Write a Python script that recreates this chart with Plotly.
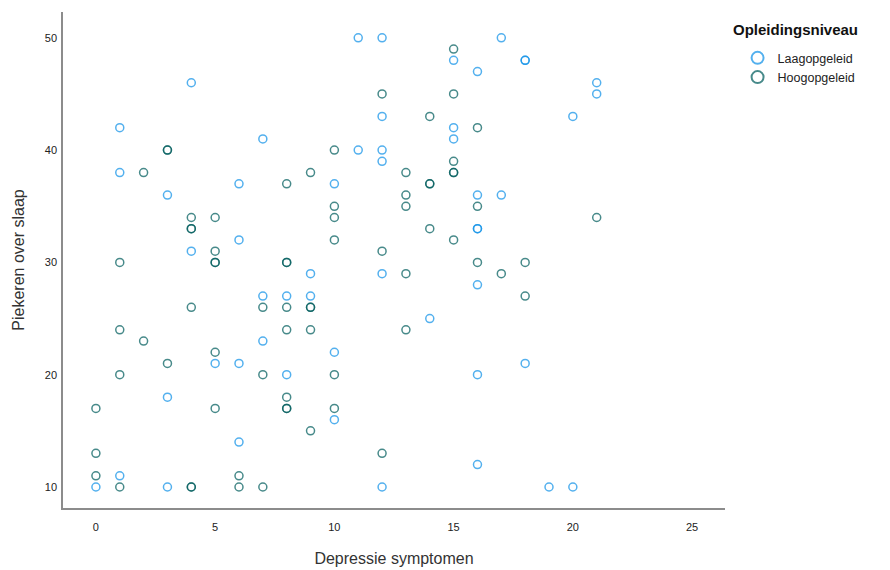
import plotly.graph_objects as go

# Depressie symptomen (x) and Piekeren over slaap (y) per opleidingsniveau
laag_x = [11, 12, 17, 15, 18, 18, 16, 4, 21, 21, 12, 20, 1, 15, 7, 15, 11, 12, 12,
          1, 6, 10, 3, 16, 17, 16, 16, 6, 4, 9, 12, 16, 7, 8, 9, 14, 7, 10, 5, 6, 18,
          8, 16, 3, 10, 6, 16, 1, 0, 3, 12, 19, 20]
laag_y = [50, 50, 50, 48, 48, 48, 47, 46, 46, 45, 43, 43, 42, 42, 41, 41, 40, 40, 39,
          38, 37, 37, 36, 36, 36, 33, 33, 32, 31, 29, 29, 28, 27, 27, 27, 25, 23, 22, 21, 21, 21,
          20, 20, 18, 16, 14, 12, 11, 10, 10, 10, 10, 10]

hoog_x = [15, 12, 15, 14, 16, 3, 3, 10, 15, 2, 9, 13, 15, 15, 8, 14, 14, 13, 10, 13, 16,
          4, 5, 10, 21, 4, 4, 14, 10, 15, 5, 12, 1, 5, 5, 8, 8, 16, 18, 13, 17,
          18, 4, 7, 8, 9, 9, 1, 8, 9, 13, 2, 5, 3, 1, 7, 10, 8, 0, 5, 8, 8, 10,
          9, 0, 12, 0, 6, 1, 4, 4, 6, 7]
hoog_y = [49, 45, 45, 43, 42, 40, 40, 40, 39, 38, 38, 38, 38, 38, 37, 37, 37, 36, 35, 35, 35,
          34, 34, 34, 34, 33, 33, 33, 32, 32, 31, 31, 30, 30, 30, 30, 30, 30, 30, 29, 29,
          27, 26, 26, 26, 26, 26, 24, 24, 24, 24, 23, 22, 21, 20, 20, 20, 18, 17, 17, 17, 17, 17,
          15, 13, 13, 11, 11, 10, 10, 10, 10, 10]

x_ticks = [0, 5, 10, 15, 20, 25]
y_ticks = [10, 20, 30, 40, 50]

BLUE = "#1192e8"
TEAL = "#005d5d"
FONT = "Arial, Liberation Sans, sans-serif"

fig = go.Figure()
for name, xs, ys, col in [("Laagopgeleid", laag_x, laag_y, BLUE),
                          ("Hoogopgeleid", hoog_x, hoog_y, TEAL)]:
    fig.add_trace(go.Scatter(
        x=xs, y=ys, mode="markers", name=name,
        marker=dict(symbol="circle-open", size=8, color=col, opacity=0.72,
                    line=dict(width=1.5, color=col)),
    ))

axis_line = dict(showline=True, linecolor="#8c8c8c", linewidth=1.5, mirror=False,
                 showgrid=False, zeroline=False, ticks="", automargin=False,
                 tickfont=dict(family=FONT, size=11, color="#222222"))

fig.update_layout(
    width=890, height=570,
    margin=dict(l=63, r=165, t=12, b=62),
    paper_bgcolor="white", plot_bgcolor="white",
    font=dict(family=FONT, color="#222222"),
    xaxis=dict(range=[-1.38, 26.38], tickvals=x_ticks, ticklabelstandoff=8,
               title=dict(text="Depressie symptomen", font=dict(size=16, color="#333333"),
                          standoff=21),
               **axis_line),
    yaxis=dict(range=[8.13, 52.3], tickvals=y_ticks, ticklabelstandoff=2,
               title=dict(text="Piekeren over slaap", font=dict(size=16, color="#333333"),
                          standoff=16),
               **axis_line),
    legend=dict(
        x=1.019, y=0.937, xanchor="left", yanchor="top",
        xref="paper", yref="paper",
        font=dict(size=12.5, color="#222222"),
        itemsizing="constant", tracegroupgap=0,
        bgcolor="rgba(0,0,0,0)",
    ),
    showlegend=True,
    annotations=[dict(
        text="<b>Opleidingsniveau</b>", xref="paper", yref="paper",
        x=(731 - 63) / 662, y=1 - (30 - 12) / 496, xanchor="left", yanchor="middle",
        showarrow=False, font=dict(size=15, color="#111111", family=FONT),
    )],
)

fig.write_html("out.html")
